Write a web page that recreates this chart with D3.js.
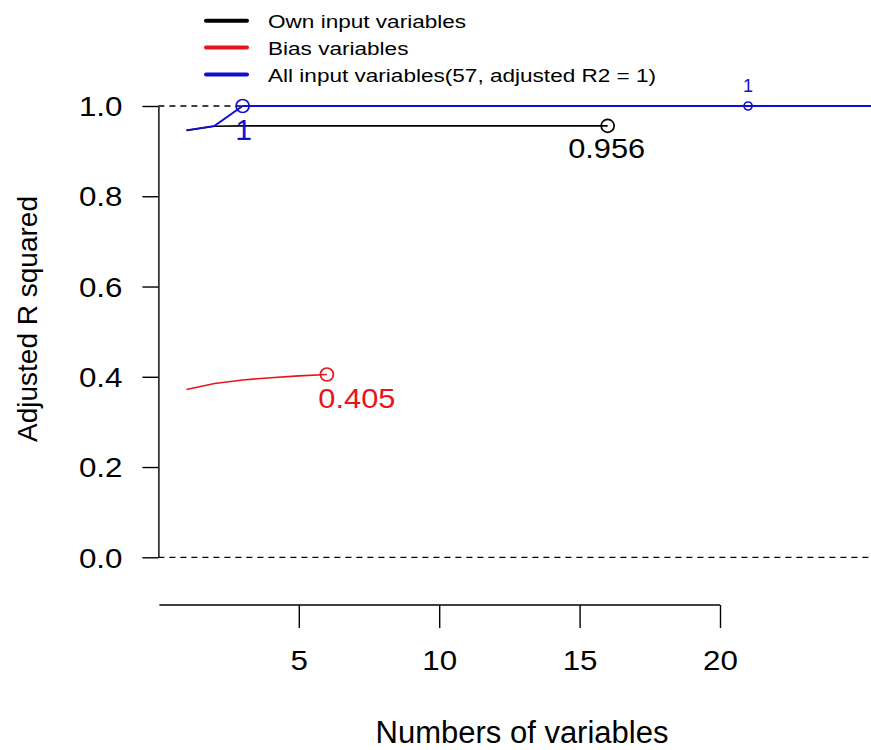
<!DOCTYPE html>
<html><head><meta charset="utf-8">
<script src="https://cdn.jsdelivr.net/npm/d3@7"></script>
<style>body{margin:0;background:#fff;} svg{display:block;font-family:"Liberation Sans",Arial,sans-serif;}</style>
</head><body>
<svg id="c" width="871" height="750"></svg>
<script>
const ownX = [1,2,3,4,5,6,7,8,9,10,11,12,13,14,15,16];
const ownY = [0.946,0.955,0.956,0.956,0.956,0.956,0.956,0.956,0.956,0.956,0.956,0.956,0.956,0.956,0.956,0.956];
const biasX = [1,2,3,4,5,6];
const biasY = [0.372,0.385,0.393,0.398,0.402,0.405];
const allX = [1,2,3,21,57];
const allY = [0.946,0.956,1,1,1];
const xTicks = [5,10,15,20];
const yTicks = [0,0.2,0.4,0.6,0.8,1.0];
const legendLabels = ["Own input variables","Bias variables","All input variables(57, adjusted R2 = 1)"];
const colors = ["#000000","#e8141c","#1010d0"];
const FONT = "Liberation Sans, Arial, sans-serif";

const svg = d3.select("#c");
const x = d3.scaleLinear().domain([0,20]).range([158.4,720]);
const y = d3.scaleLinear().domain([0,1]).range([557.3,106]);

function txt(px,py,t,size,col,sx,anchor){
  return svg.append("text").attr("transform",`translate(${px},${py}) scale(${sx},1)`)
    .attr("text-anchor",anchor||"middle").attr("font-size",size).attr("fill",col).text(t);
}

svg.append("clipPath").attr("id","clip").append("rect").attr("x",158).attr("y",0).attr("width",713).attr("height",750);
const g = svg.append("g").attr("clip-path","url(#clip)");

[0,1].forEach(v=>{
  g.append("line").attr("x1",x(0)).attr("x2",871).attr("y1",y(v)).attr("y2",y(v))
   .attr("stroke","#000").attr("stroke-width",1.3).attr("stroke-dasharray","6,5");
});

const line = d3.line().x(d=>x(d[0])).y(d=>y(d[1]));
function series(xs, ys, col, w){
  g.append("path").datum(xs.map((v,i)=>[v,ys[i]])).attr("d",line)
   .attr("fill","none").attr("stroke",col).attr("stroke-width",w);
}
series(ownX, ownY, colors[0], 1.6);
series(biasX, biasY, colors[1], 1.6);
series(allX, allY, colors[2], 1.9);

function pt(px,py,r,col){
  svg.append("circle").attr("cx",x(px)).attr("cy",y(py)).attr("r",r)
   .attr("fill","none").attr("stroke",col).attr("stroke-width",1.7);
}
pt(16, ownY[15], 6.5, colors[0]);
pt(6, biasY[5], 6.5, colors[1]);
pt(3, allY[2], 6.5, colors[2]);
pt(21, allY[3], 4, colors[2]);

txt(x(16)-1, y(ownY[15])+32, "0.956", 28, colors[0], 1.1);
txt(x(6)+30, y(biasY[5])+33, "0.405", 28, colors[1], 1.1);
txt(x(3)+1, y(allY[2])+34, "1", 30, colors[2], 1.0);
txt(x(21), y(allY[3])-14, "1", 18, colors[2], 1.0);

// Y axis
const sxT = 1.16;
const ya = svg.append("g").attr("transform",`translate(${x(0)},0)`)
  .call(d3.axisLeft(y).tickValues(yTicks).tickFormat(d3.format(".1f")).tickSize(16).tickSizeOuter(0));
ya.select(".domain").attr("stroke","#000").attr("stroke-width",1.4);
ya.selectAll(".tick line").attr("stroke","#000").attr("stroke-width",1.4);
ya.selectAll(".tick text").attr("font-size",27).attr("fill","#000").attr("font-family",FONT)
  .attr("x",-36/sxT).attr("dy","0.36em").attr("transform",`scale(${sxT},1)`);

// X axis
const xa = svg.append("g").attr("transform","translate(0,605)")
  .call(d3.axisBottom(x).tickValues(xTicks).tickSize(23).tickSizeOuter(0));
xa.select(".domain").attr("stroke","#000").attr("stroke-width",1.4).attr("d",`M${x(0)+1},0H${x(20)}`);
xa.selectAll(".tick line").attr("stroke","#000").attr("stroke-width",1.4);
xa.selectAll(".tick text").attr("font-size",27).attr("fill","#000").attr("font-family",FONT)
  .attr("y",65).attr("dy",0).attr("transform",`scale(${sxT},1)`);

// axis titles
svg.append("text").attr("transform","translate(37,319) rotate(-90)").attr("text-anchor","middle")
  .attr("font-size",28).attr("fill","#000").text("Adjusted R squared");
svg.append("text").attr("x",522).attr("y",743).attr("text-anchor","middle")
  .attr("font-size",31).attr("fill","#000").text("Numbers of variables");

// legend
const ly = [20.7,47.5,74.5];
legendLabels.forEach((t,i)=>{
  svg.append("line").attr("x1",206).attr("x2",247).attr("y1",ly[i]).attr("y2",ly[i])
    .attr("stroke",colors[i]).attr("stroke-width",4).attr("stroke-linecap","round");
  txt(268, ly[i]+7, t, 18.5, "#000", 1.22, "start");
});
</script>
</body></html>
